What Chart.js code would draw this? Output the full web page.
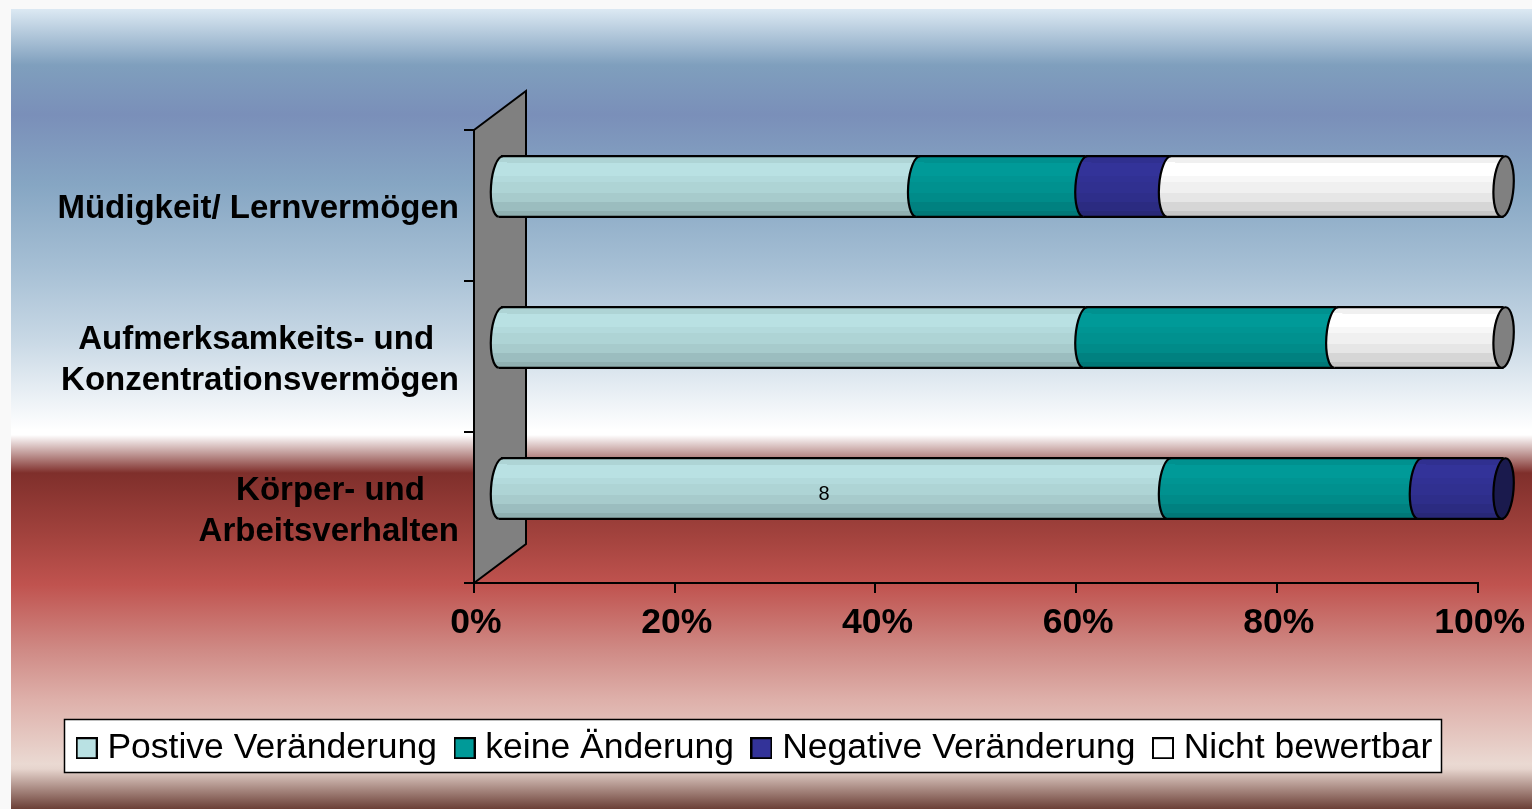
<!DOCTYPE html>
<html lang="de">
<head>
<meta charset="utf-8">
<title>Veränderungen</title>
<script src="https://cdn.jsdelivr.net/npm/chart.js@4"></script>
<style>
  html, body { margin: 0; padding: 0; background: #f9f9f9; overflow: hidden; }
  #panel {
    position: absolute; left: 11px; top: 9px; width: 1521px; height: 800px;
    background: linear-gradient(to bottom,
      #dce9f3 0px, #7f9fbd 56px, #7a8fb9 106px, #86a6c3 176px, #a7c0d5 261px,
      #c8d8e5 331px, #ffffff 421px, #ffffff 426px, #7f2f2b 464px, #a5443f 531px,
      #c0534f 576px, #cf8a85 641px, #deb0aa 691px, #ead9d2 755px, #e6d4cd 760px, #6b3f36 800px);
  }
  #wrap { position: absolute; left: 0; top: 0; width: 1532px; height: 809px; }
</style>
</head>
<body>
<div id="panel"></div>
<div id="wrap"><canvas id="chart" width="1532" height="809"></canvas></div>
<script>
// answers per category, 12 in total for each row
// trailing spaces centre the short line over the long one, ticks can only align right
const categories = [
  'Müdigkeit/ Lernvermögen',
  ['Aufmerksamkeits- und  \u2009', 'Konzentrationsvermögen'],
  ['Körper- und   \u2009', 'Arbeitsverhalten']
];
const TOTAL = 12;
const postive = [5, 7, 8];
const keine = [2, 3, 3];
const negative = [1, 0, 1];
const nicht = [4, 2, 0];

const seriesNames = ['Postive Veränderung', 'keine Änderung', 'Negative Veränderung', 'Nicht bewertbar'];
const seriesColors = ['#b9e1e3', '#009a98', '#333399', '#ffffff'];
const capColors = ['#5c7071', '#004d4c', '#1a1a4d', '#808080'];

const DEPTH_X = 26;   // half of the wall depth, bars sit in the middle of it
const DEPTH_Y = -19;
const CAP_RX = 10;
const CAP_TILT = 0.07;

const pct = arr => arr.map(v => v / TOTAL * 100);

function shade(hex, f) {
  const n = parseInt(hex.slice(1), 16);
  const c = [n >> 16, (n >> 8) & 255, n & 255].map(v => Math.round(v * f));
  return `rgb(${c[0]},${c[1]},${c[2]})`;
}

// stepped bands like the cylinder shading in the original
const bands = [[0, 0.94], [0.1, 1], [0.33, 0.97], [0.42, 0.94], [0.6, 0.9], [0.75, 0.84], [0.9, 0.78]];

function cylinderFill(c, hex, top, bottom) {
  const g = c.createLinearGradient(0, top, 0, bottom);
  bands.forEach(([start, f], i) => {
    const end = i + 1 < bands.length ? bands[i + 1][0] : 1;
    g.addColorStop(start, shade(hex, f));
    g.addColorStop(end, shade(hex, f));
  });
  return g;
}

function barFill(ctx, hex) {
  const chart = ctx.chart;
  if (!chart.chartArea) return hex;
  const y = chart.scales.y.getPixelForValue(ctx.dataIndex);
  return cylinderFill(chart.ctx, hex, y - 30, y + 30);
}

const datasets = [postive, keine, negative, nicht].map((vals, i) => ({
  label: seriesNames[i],
  data: pct(vals),
  backgroundColor: ctx => barFill(ctx, seriesColors[i]),
  borderWidth: 0,
  clip: false,
  categoryPercentage: 0.408,
  barPercentage: 1
}));

function legendSwatch(hex) {
  const c = document.createElement('canvas');
  c.width = 22;
  c.height = 22;
  const g = c.getContext('2d');
  g.fillStyle = hex;
  g.fillRect(1, 1, 20, 20);
  g.strokeStyle = '#000';
  g.lineWidth = 2;
  g.strokeRect(1, 1, 20, 20);
  return c;
}

const threeD = {
  id: 'threeD',
  beforeDraw(chart) {
    // white legend frame
    const c = chart.ctx;
    c.save();
    c.fillStyle = '#fff';
    c.strokeStyle = '#000';
    c.lineWidth = 1.5;
    c.fillRect(64.5, 719.5, 1377, 53);
    c.strokeRect(64.5, 719.5, 1377, 53);
    c.restore();
  },
  beforeDatasetsDraw(chart) {
    // back wall
    const { left, top, bottom } = chart.chartArea;
    const c = chart.ctx;
    c.save();
    c.beginPath();
    c.moveTo(left, top);
    c.lineTo(left + DEPTH_X * 2, top - 39);
    c.lineTo(left + DEPTH_X * 2, bottom - 39);
    c.lineTo(left, bottom);
    c.closePath();
    c.fillStyle = '#808080';
    c.fill();
    c.strokeStyle = '#000';
    c.lineWidth = 2;
    c.stroke();
    c.restore();
  },
  beforeDatasetDraw(chart) {
    chart.ctx.save();
    chart.ctx.translate(DEPTH_X, DEPTH_Y);
  },
  afterDatasetDraw(chart) {
    chart.ctx.restore();
  },
  afterDatasetsDraw(chart) {
    const c = chart.ctx;
    c.save();
    c.translate(DEPTH_X, DEPTH_Y);
    c.strokeStyle = '#000';
    c.lineWidth = 2.2;
    chart.data.datasets.forEach((ds, i) => {
      chart.getDatasetMeta(i).data.forEach((bar, row) => {
        if (!ds.data[row]) return;
        const ry = bar.height / 2 - 0.5;
        const top = bar.y - ry;
        const lower = bar.y + ry;
        // left end bulges into the segment before it
        c.beginPath();
        c.ellipse(bar.base, bar.y, CAP_RX, ry, CAP_TILT, Math.PI / 2, Math.PI * 1.5);
        c.lineTo(bar.base + 6, top);
        c.lineTo(bar.base + 6, lower);
        c.closePath();
        c.fillStyle = cylinderFill(c, seriesColors[i], top, lower);
        c.fill();
        c.beginPath();
        c.ellipse(bar.base, bar.y, CAP_RX, ry, CAP_TILT, Math.PI / 2, Math.PI * 1.5);
        c.stroke();
        // top and bottom edge
        c.beginPath();
        c.moveTo(bar.base, top);
        c.lineTo(bar.x, top);
        c.moveTo(bar.base - 2, lower);
        c.lineTo(bar.x, lower);
        c.stroke();
        // closing end of the cylinder at 100%
        if (Math.abs(bar.x - chart.chartArea.right) < 1) {
          c.beginPath();
          c.ellipse(bar.x, bar.y, CAP_RX, ry, CAP_TILT, 0, Math.PI * 2);
          c.fillStyle = capColors[i];
          c.fill();
          c.stroke();
        }
      });
    });
    c.restore();

    // the one data label that is left in the original
    const bar = chart.getDatasetMeta(0).data[2];
    c.save();
    c.fillStyle = '#000';
    c.font = '20px "Liberation Sans"';
    c.textAlign = 'center';
    c.textBaseline = 'middle';
    c.fillText(String(postive[2]), (bar.x + bar.base) / 2 + 15, bar.y + DEPTH_Y + 6);
    c.restore();
  }
};

new Chart(document.getElementById('chart'), {
  type: 'bar',
  data: { labels: categories, datasets },
  plugins: [threeD],
  options: {
    indexAxis: 'y',
    responsive: false,
    animation: false,
    layout: { padding: { left: 38, right: 54, top: 130, bottom: 33 } },
    scales: {
      x: {
        stacked: true,
        min: 0,
        max: 100,
        afterFit: scale => { scale.height = 123; },
        border: { color: '#000', width: 2 },
        grid: { drawOnChartArea: false, drawTicks: true, tickLength: 10, color: '#000', lineWidth: 2 },
        ticks: {
          stepSize: 20,
          maxRotation: 0,
          padding: 9,
          labelOffset: 2,
          color: '#000',
          font: { family: '"Liberation Sans"', size: 35.5, weight: 'bold' },
          callback: v => v + '%'
        }
      },
      y: {
        stacked: true,
        afterFit: scale => { scale.width = 436; },
        border: { color: '#000', width: 2 },
        grid: { drawOnChartArea: false, drawTicks: true, tickLength: 10, color: '#000', lineWidth: 2 },
        ticks: {
          padding: 5,
          labelOffset: 3.5,
          color: '#000',
          autoSkip: false,
          font: { family: '"Liberation Sans"', size: 33, weight: 'bold', lineHeight: 1.24 }
        }
      }
    },
    plugins: {
      tooltip: { enabled: false },
      legend: {
        position: 'bottom',
        labels: {
          usePointStyle: true,
          pointStyleWidth: 6,
          padding: 24.5,
          color: '#000',
          font: { family: '"Liberation Sans"', size: 35.5 },
          generateLabels: chart => chart.data.datasets.map((ds, i) => ({
            text: ds.label,
            datasetIndex: i,
            pointStyle: legendSwatch(seriesColors[i]),
            fontColor: '#000',
            lineWidth: 0
          }))
        }
      }
    }
  }
});
</script>
</body>
</html>
